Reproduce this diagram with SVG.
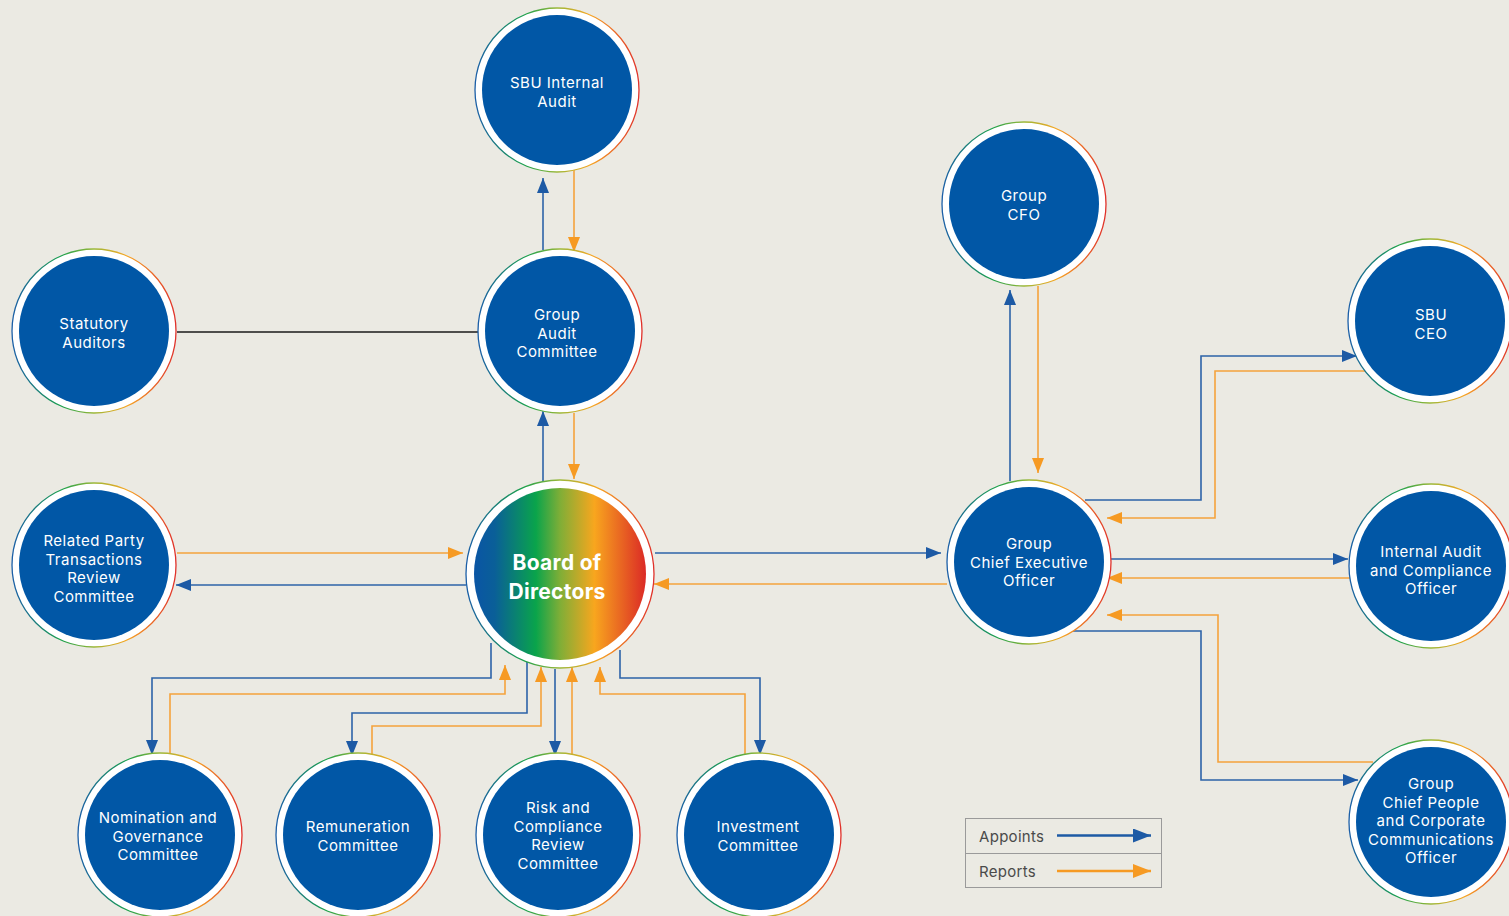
<svg xmlns="http://www.w3.org/2000/svg" width="1509" height="916" viewBox="0 0 1509 916">
<defs>
<linearGradient id="ring" x1="0" y1="0" x2="1" y2="0">
<stop offset="0" stop-color="#1b5ea8"/>
<stop offset="0.3" stop-color="#1aa04c"/>
<stop offset="0.5" stop-color="#9bb838"/>
<stop offset="0.7" stop-color="#f6a623"/>
<stop offset="1" stop-color="#e0302a"/>
</linearGradient>
<linearGradient id="board" x1="0" y1="0" x2="1" y2="0">
<stop offset="0" stop-color="#0a55a5"/>
<stop offset="0.12" stop-color="#0a5f98"/>
<stop offset="0.36" stop-color="#0aa44b"/>
<stop offset="0.5" stop-color="#7fae37"/>
<stop offset="0.7" stop-color="#f8a61e"/>
<stop offset="1" stop-color="#db2a26"/>
</linearGradient>
<marker id="ab" markerUnits="userSpaceOnUse" markerWidth="15" markerHeight="12" refX="15" refY="6" orient="auto">
<path d="M0,0 L15,6 L0,12 z" fill="#1d5aa5"/>
</marker>
<marker id="ao" markerUnits="userSpaceOnUse" markerWidth="15" markerHeight="12" refX="15" refY="6" orient="auto">
<path d="M0,0 L15,6 L0,12 z" fill="#f69a23"/>
</marker>
<marker id="abL" markerUnits="userSpaceOnUse" markerWidth="18" markerHeight="14" refX="18" refY="7" orient="auto">
<path d="M0,0 L18,7 L0,14 z" fill="#1d5aa5"/>
</marker>
<marker id="aoL" markerUnits="userSpaceOnUse" markerWidth="18" markerHeight="14" refX="18" refY="7" orient="auto">
<path d="M0,0 L18,7 L0,14 z" fill="#f69a23"/>
</marker>
</defs>
<style>
.bl{fill:none;stroke:#2d63a8;stroke-width:1.6;marker-end:url(#ab)}
.or{fill:none;stroke:#f5a33c;stroke-width:1.6;marker-end:url(#ao)}
.ring{fill:#ffffff;stroke:url(#ring);stroke-width:1.3}
.core{fill:#0157a6}
.t{fill:#ffffff;font-family:Inter,"Open Sans",sans-serif;font-size:15px;letter-spacing:0.5px;text-anchor:middle}
.tb{fill:#ffffff;font-family:Inter,"Open Sans",sans-serif;font-size:21px;font-weight:bold;letter-spacing:0.3px;text-anchor:middle}
.lg{fill:#4a4a4a;font-family:Inter,"Open Sans",sans-serif;font-size:15px;letter-spacing:0.3px}
</style>
<rect width="1509" height="916" fill="#ebeae3"/>

<g id="connectors">
<line x1="177" y1="332" x2="479" y2="332" stroke="#1a1a1a" stroke-width="1.4"/>
<path class="bl" d="M543,250 V178"/>
<path class="or" d="M574,170 V252"/>
<path class="bl" d="M543,481 V411"/>
<path class="or" d="M574,413 V479"/>
<path class="or" d="M177,553 H463"/>
<path class="bl" d="M466,585 H176"/>
<path class="bl" d="M655,553 H941"/>
<path class="or" d="M947,584 H654"/>
<path class="bl" d="M1010,481 V290"/>
<path class="or" d="M1038,286 V473"/>
<path class="bl" d="M1085,500 H1201 V356 H1357"/>
<path class="or" d="M1365,371 H1215 V518 H1107"/>
<path class="bl" d="M1111,559 H1348"/>
<path class="or" d="M1350,578 H1107"/>
<path class="bl" d="M1072,631 H1201 V780 H1358"/>
<path class="or" d="M1373,762 H1218 V615 H1107"/>
<path class="bl" d="M491,643 V678 H152 V755"/>
<path class="or" d="M170,754 V694 H505 V665"/>
<path class="bl" d="M527,662 V713 H352 V756"/>
<path class="or" d="M372,755 V726 H541 V667"/>
<path class="bl" d="M555,669 V756"/>
<path class="or" d="M572,755 V667"/>
<path class="bl" d="M620,650 V678 H760 V755"/>
<path class="or" d="M745,755 V694 H600 V667"/>
</g>

<g id="sbu-internal-audit">
<circle class="ring" cx="557" cy="90" r="82"/>
<circle class="core" cx="557" cy="90" r="75"/>
<text class="t"><tspan x="557" y="88">SBU Internal</tspan><tspan x="557" y="106.6">Audit</tspan></text>
</g>

<g id="group-audit-committee">
<circle class="ring" cx="560" cy="331" r="82"/>
<circle class="core" cx="560" cy="331" r="75"/>
<text class="t"><tspan x="557" y="320">Group</tspan><tspan x="557" y="338.6">Audit</tspan><tspan x="557" y="357.2">Committee</tspan></text>
</g>

<g id="statutory-auditors">
<circle class="ring" cx="94" cy="331" r="82"/>
<circle class="core" cx="94" cy="331" r="75"/>
<text class="t"><tspan x="94" y="329">Statutory</tspan><tspan x="94" y="347.6">Auditors</tspan></text>
</g>

<g id="related-party">
<circle class="ring" cx="94" cy="565" r="82"/>
<circle class="core" cx="94" cy="565" r="75"/>
<text class="t"><tspan x="94" y="546">Related Party</tspan><tspan x="94" y="564.6">Transactions</tspan><tspan x="94" y="583.2">Review</tspan><tspan x="94" y="601.8">Committee</tspan></text>
</g>

<g id="board-of-directors">
<circle class="ring" cx="560" cy="574" r="94"/>
<circle cx="560" cy="574" r="86" fill="url(#board)"/>
<text class="tb"><tspan x="557" y="570">Board of</tspan><tspan x="557" y="599">Directors</tspan></text>
</g>

<g id="group-cfo">
<circle class="ring" cx="1024" cy="204" r="82"/>
<circle class="core" cx="1024" cy="204" r="75"/>
<text class="t"><tspan x="1024" y="201">Group</tspan><tspan x="1024" y="219.6">CFO</tspan></text>
</g>

<g id="sbu-ceo">
<circle class="ring" cx="1430" cy="321" r="82"/>
<circle class="core" cx="1430" cy="321" r="75"/>
<text class="t"><tspan x="1431" y="320">SBU</tspan><tspan x="1431" y="338.6">CEO</tspan></text>
</g>

<g id="group-ceo">
<circle class="ring" cx="1029" cy="562" r="82"/>
<circle class="core" cx="1029" cy="562" r="75"/>
<text class="t"><tspan x="1029" y="549">Group</tspan><tspan x="1029" y="567.6">Chief Executive</tspan><tspan x="1029" y="586.2">Officer</tspan></text>
</g>

<g id="internal-audit-compliance">
<circle class="ring" cx="1431" cy="566" r="82"/>
<circle class="core" cx="1431" cy="566" r="75"/>
<text class="t"><tspan x="1431" y="557">Internal Audit</tspan><tspan x="1431" y="575.6">and Compliance</tspan><tspan x="1431" y="594.2">Officer</tspan></text>
</g>

<g id="chief-people">
<circle class="ring" cx="1431" cy="822" r="82"/>
<circle class="core" cx="1431" cy="822" r="75"/>
<text class="t"><tspan x="1431" y="789">Group</tspan><tspan x="1431" y="807.6">Chief People</tspan><tspan x="1431" y="826.2">and Corporate</tspan><tspan x="1431" y="844.8">Communications</tspan><tspan x="1431" y="863.4">Officer</tspan></text>
</g>

<g id="nomination">
<circle class="ring" cx="160" cy="835" r="82"/>
<circle class="core" cx="160" cy="835" r="75"/>
<text class="t"><tspan x="158" y="823">Nomination and</tspan><tspan x="158" y="841.6">Governance</tspan><tspan x="158" y="860.2">Committee</tspan></text>
</g>

<g id="remuneration">
<circle class="ring" cx="358" cy="835" r="82"/>
<circle class="core" cx="358" cy="835" r="75"/>
<text class="t"><tspan x="358" y="832">Remuneration</tspan><tspan x="358" y="850.6">Committee</tspan></text>
</g>

<g id="risk-compliance">
<circle class="ring" cx="558" cy="835" r="82"/>
<circle class="core" cx="558" cy="835" r="75"/>
<text class="t"><tspan x="558" y="813">Risk and</tspan><tspan x="558" y="831.6">Compliance</tspan><tspan x="558" y="850.2">Review</tspan><tspan x="558" y="868.8">Committee</tspan></text>
</g>

<g id="investment">
<circle class="ring" cx="759" cy="835" r="82"/>
<circle class="core" cx="759" cy="835" r="75"/>
<text class="t"><tspan x="758" y="832">Investment</tspan><tspan x="758" y="850.6">Committee</tspan></text>
</g>

<g id="legend">
<rect x="965.5" y="818.5" width="196" height="69" fill="none" stroke="#9a9a9a" stroke-width="1"/>
<line x1="965.5" y1="853.5" x2="1161.5" y2="853.5" stroke="#9a9a9a" stroke-width="1"/>
<text class="lg" x="979" y="842">Appoints</text>
<text class="lg" x="979" y="877">Reports</text>
<path d="M1057,835.5 H1151" stroke="#1d5aa5" stroke-width="2.4" fill="none" marker-end="url(#abL)"/>
<path d="M1057,871 H1151" stroke="#f69a23" stroke-width="2.4" fill="none" marker-end="url(#aoL)"/>
</g>
</svg>
